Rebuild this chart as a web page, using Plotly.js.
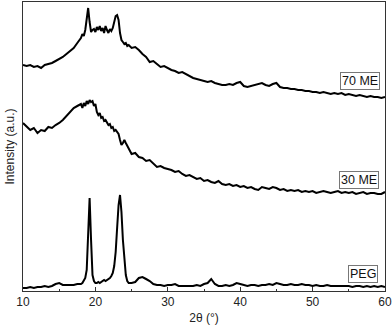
<!DOCTYPE html>
<html>
<head>
<meta charset="utf-8">
<script src="https://cdn.plot.ly/plotly-3.0.1.min.js"></script>
<style>
  html, body { margin: 0; padding: 0; background: #fff; }
  #chart { width: 392px; height: 325px; }
</style>
</head>
<body>
<div id="chart"></div>
<script>
// 2-theta grid (deg): coarse, fine around the PEG peaks, coarse again
const theta = [
  10, 10.5, 11, 11.5, 12, 12.5, 13, 13.5, 14, 14.5, 15, 15.5, 16, 16.5, 17, 17.5, 18,
  18.2, 18.4, 18.6, 18.8, 19.0, 19.2, 19.4, 19.6, 19.8, 20.0,
  20.2, 20.4, 20.6, 20.8, 21.0, 21.2, 21.4, 21.6, 21.8, 22.0,
  22.2, 22.4, 22.6, 22.8, 23.0, 23.2, 23.4, 23.6, 23.8, 24.0,
  24.2, 24.4, 24.6,
  25, 25.5, 26, 26.5, 27, 27.5, 28, 28.5, 29, 29.5, 30, 30.5, 31, 31.5, 32, 32.5,
  33, 33.5, 34, 34.5, 35, 35.5, 36, 36.5, 37, 37.5, 38, 38.5, 39, 39.5, 40, 40.5,
  41, 41.5, 42, 42.5, 43, 43.5, 44, 44.5, 45, 45.5, 46, 46.5, 47, 47.5, 48, 48.5,
  49, 49.5, 50, 50.5, 51, 51.5, 52, 52.5, 53, 53.5, 54, 54.5, 55, 55.5, 56, 56.5,
  57, 57.5, 58, 58.5, 59, 59.5, 60
];

// intensities (a.u., stacked offsets included)
const me70 = [
  226, 225, 226, 224, 225, 223, 226, 227, 228, 230, 232, 234, 237, 240, 243, 248, 253,
  257, 255, 261, 273, 283, 269, 259, 261, 262, 259,
  264, 261, 265, 260, 263, 258, 265, 261, 258, 262,
  260, 263, 269, 275, 276, 271, 258, 251, 249, 247,
  248, 245, 246,
  243, 244, 241, 237, 234, 229, 230, 227, 224, 225, 223, 221, 220, 218, 219, 217,
  215, 213, 212, 211, 210, 209, 210, 208, 207, 206, 206, 207, 206, 208, 209, 205,
  204, 205, 206, 207, 208, 206, 205, 207, 208, 204, 203, 203, 202, 202, 201, 201,
  200, 200, 199, 199, 198, 199, 198, 197, 198, 197, 198, 196, 197, 196, 195, 196,
  195, 194, 195, 194, 194, 193, 194
];

const me30 = [
  168, 164, 161, 163, 158, 161, 160, 164, 163, 166, 168, 171, 175, 179, 183, 185, 187,
  183, 188, 185, 190, 187, 191, 189, 190, 185, 187,
  179, 176, 178, 173, 174, 170, 171, 168, 166, 167,
  163, 164, 160, 161, 159, 157, 151, 146, 148, 151,
  148, 145, 143,
  137, 138, 134, 133, 130, 131, 127, 124, 125, 123, 122, 121, 119, 120, 117, 115,
  116, 114, 112, 113, 110, 111, 109, 108, 110, 107, 106, 107, 105, 106, 104, 105,
  103, 104, 102, 101, 104, 103, 102, 104, 103, 101, 102, 100, 101, 100, 101, 99,
  100, 99, 100, 98, 99, 100, 99, 98, 99, 100, 98, 99, 98, 99, 97, 98,
  99, 97, 98, 98, 97, 97, 99
];

const peg = [
  3, 3, 4, 3, 4, 4, 5, 4, 5, 7, 8, 6, 6, 6, 6, 7, 7,
  8, 10, 13, 21, 56, 93, 51, 16, 10, 8,
  8, 9, 8, 9, 10, 11, 10, 11, 12, 13,
  15, 18, 25, 39, 63, 86, 96, 79, 51, 28,
  16, 10, 8,
  8, 9, 13, 14, 12, 10, 7, 6, 6, 5, 6, 6, 7, 5, 5, 5,
  5, 5, 6, 5, 7, 8, 12, 7, 5, 5, 6, 5, 6, 8, 7, 6,
  5, 6, 6, 5, 6, 6, 7, 6, 8, 7, 6, 6, 7, 6, 6, 7,
  6, 6, 5, 6, 5, 5, 6, 5, 5, 5, 5, 5, 5, 4, 5, 5,
  4, 5, 4, 5, 4, 5, 4
];

const seriesNames = ["70 ME", "30 ME", "PEG"];
const labelX = [56.5, 56.4, 57.0];
const labelY = [210, 111, 17];

const lineStyle = { color: "#000", width: 2 };

const traces = [me70, me30, peg].map(function(vals, i) {
  return {
    x: theta,
    y: vals,
    type: "scatter",
    mode: "lines",
    name: seriesNames[i],
    line: lineStyle,
    showlegend: false,
    hoverinfo: "skip",
  };
});

const annotations = seriesNames.map(function(name, i) {
  return {
    x: labelX[i],
    y: labelY[i],
    xref: "x",
    yref: "y",
    text: name,
    showarrow: false,
    font: { family: "Liberation Sans, Arial, sans-serif", size: 12.5, color: "#111" },
    bordercolor: "#777",
    borderwidth: 1,
    borderpad: 1,
    bgcolor: "#fff",
  };
});

const layout = {
  width: 392,
  height: 325,
  paper_bgcolor: "#fff",
  plot_bgcolor: "#fff",
  margin: { l: 23, r: 7, t: 2, b: 34 },
  font: { family: "Liberation Sans, Arial, sans-serif", size: 12, color: "#222" },
  xaxis: {
    range: [10, 60],
    dtick: 10,
    ticks: "inside",
    ticklen: 4,
    tickcolor: "#333",
    showline: true,
    linecolor: "#333",
    linewidth: 1,
    mirror: true,
    showgrid: false,
    zeroline: false,
    minor: { dtick: 5, ticks: "inside", ticklen: 2, tickcolor: "#333" },
    tickfont: { size: 12, color: "#222" },
    title: { text: "2θ (°)", font: { size: 12, color: "#222" }, standoff: 7 },
  },
  yaxis: {
    range: [0, 289],
    showticklabels: false,
    ticks: "",
    showline: true,
    linecolor: "#333",
    linewidth: 1,
    mirror: true,
    showgrid: false,
    zeroline: false,
    title: { text: "Intensity (a.u.)", font: { size: 12, color: "#222" }, standoff: 4 },
  },
  annotations: annotations,
};

Plotly.newPlot("chart", traces, layout, { displayModeBar: false, staticPlot: true });
</script>
</body>
</html>
